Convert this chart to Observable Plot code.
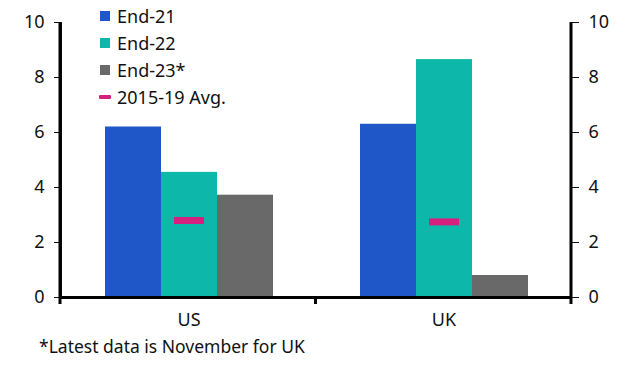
<!DOCTYPE html>
<html>
<head>
<meta charset="utf-8">
<script src="https://cdn.jsdelivr.net/npm/d3@7"></script>
<script src="https://cdn.jsdelivr.net/npm/@observablehq/plot@0.6"></script>
<style>
  body { margin: 0; background: white; font-family: "Noto Sans", sans-serif; }
  #wrap { position: relative; width: 641px; height: 372px; }
  #legend { position: absolute; left: 99px; top: 2px; font-size: 18px; color: #111; }
  .row { display: flex; align-items: center; height: 27px; }
  .sw { width: 10px; height: 10px; margin-left: 1px; margin-right: 7px; }
  .ln { width: 12px; height: 4px; margin-right: 6px; border-radius: 1px; }
  #caption { position: absolute; left: 39px; top: 334px; font-size: 17.5px; color: #111; white-space: nowrap; }
</style>
</head>
<body>
<div id="wrap">
  <div id="chart"></div>
  <div id="legend"></div>
  <div id="caption"></div>
</div>
<script>
const countries = ["US", "UK"];
const series = ["End-21", "End-22", "End-23*"];
const usValues = [6.2, 4.55, 3.72];
const ukValues = [6.3, 8.65, 0.8];
const avgValues = [2.8, 2.75];
const avgLabel = "2015-19 Avg.";
const yTicks = [0, 2, 4, 6, 8, 10];
const colors = ["#1f57c9", "#0db8ab", "#696969"];
const avgColor = "#d6207f";
const captionText = "*Latest data is November for UK";

const valuesByCountry = [usValues, ukValues];
const rows = [];
countries.forEach((c, i) => series.forEach((s, j) => rows.push({country: c, series: s, value: valuesByCountry[i][j]})));
const avgRows = countries.map((c, i) => ({country: c, series: series[1], value: avgValues[i]}));

const plot = Plot.plot({
  width: 641,
  height: 335,
  marginLeft: 60,
  marginRight: 70,
  marginTop: 22,
  marginBottom: 38,
  style: {fontFamily: "Noto Sans", fontSize: "18px", color: "#111", background: "white"},
  fx: {domain: countries, padding: 0, label: null, tickSize: 0, tickPadding: 16, axis: "bottom"},
  x: {domain: series, paddingInner: 0, paddingOuter: 0.741, axis: null},
  y: {domain: [0, 10], ticks: yTicks, tickSize: 7, tickPadding: 10, label: null, axis: "both", line: true},
  color: {domain: series, range: colors},
  marks: [
    Plot.barY(rows, {fx: "country", x: "series", y: "value", fill: "series"}),
    Plot.tickY(avgRows, {fx: "country", x: "series", y: "value", stroke: avgColor, strokeWidth: 7, insetLeft: 13, insetRight: 13}),
    Plot.ruleY([0], {strokeWidth: 3, stroke: "black"})
  ]
});
document.getElementById("chart").appendChild(plot);

// axis lines and band-edge ticks on the x axis
const svg = d3.select(plot);
const x0 = 60, x1 = 641 - 70, y0 = 335 - 38;
const edges = [x0, (x0 + x1) / 2, x1];
svg.append("g").selectAll("line").data(edges).join("line")
  .attr("x1", d => d).attr("x2", d => d).attr("y1", y0).attr("y2", y0 + 7)
  .attr("stroke", "black").attr("stroke-width", 3);
svg.append("g").selectAll("line").data([x0, x1]).join("line")
  .attr("x1", d => d).attr("x2", d => d).attr("y1", 22).attr("y2", y0)
  .attr("stroke", "black").attr("stroke-width", 3);

// legend
const legend = d3.select("#legend");
series.forEach((s, i) => {
  const r = legend.append("div").attr("class", "row");
  r.append("div").attr("class", "sw").style("background", colors[i]);
  r.append("span").text(s);
});
const r = legend.append("div").attr("class", "row");
r.append("div").attr("class", "ln").style("background", avgColor);
r.append("span").text(avgLabel);

d3.select("#caption").text(captionText);
</script>
</body>
</html>
